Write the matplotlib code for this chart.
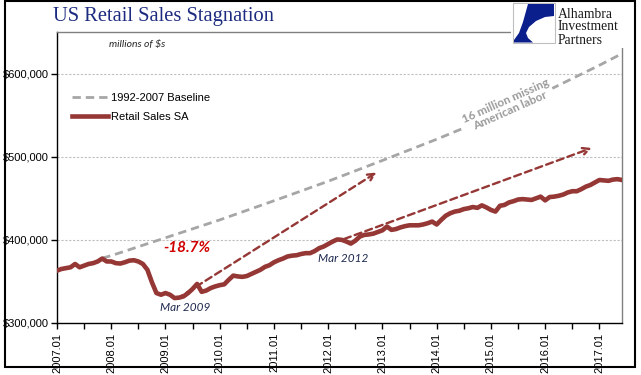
import numpy as np
import matplotlib
matplotlib.use("Agg")
import matplotlib.pyplot as plt
from matplotlib.patches import Rectangle, Polygon

# monthly retail sales SA, millions of $, Jan 2007 .. Jun 2017 (in thousands)
sales_k = [363, 365, 366, 367, 371, 367, 369, 371, 372, 374, 377.5, 374,
           374, 372, 371.5, 373, 375, 375.5, 374, 371, 364, 349, 336, 334,
           336, 334, 330, 330.5, 332, 336, 341, 347, 337.5, 339, 342, 344,
           345.5, 346.5, 352, 357, 356, 355.5, 356.5, 359, 361.5, 364, 367.5, 369.5,
           373, 375.5, 377.5, 380, 381, 381.5, 383, 384, 384, 386.5, 390, 392,
           395, 398, 400.5, 400, 398, 395.5, 399, 404, 406, 406.5, 407.5, 409.5,
           411.5, 416, 412, 413, 415, 416.5, 417.5, 417.5, 417.5, 418.5, 420, 422,
           418.5, 424, 429, 432, 434, 435, 437, 438, 439.5, 438.5, 441.5, 439,
           436, 434, 441, 442, 445, 446.5, 448.5, 449, 448.5, 448, 450, 452,
           447.5, 451.5, 452, 453, 454.5, 457, 458.5, 458.5, 461, 464, 466, 469,
           472, 471.5, 471, 472.5, 473, 472]
months = np.arange(len(sales_k))
sales = np.array(sales_k) * 1000

# 1992-2007 baseline trend (month index, thousands)
base_m = [10, 12, 24, 36, 48, 60, 72, 84, 96, 108, 120, 125]
base_k = [378, 381, 402.5, 424, 447, 470.5, 495.5, 521, 548, 578, 610, 624]
base = np.array(base_k) * 1000

# dashed growth arrows: (start month, start value), (end month, end value)
arrows = [((26.5, 329000), (70.7, 481000)),
          ((63.5, 401000), (118.3, 510500))]

years = list(range(2007, 2018))
yticks = [300000, 400000, 500000, 600000]

red = "#953735"
grey = "#A6A6A6"

fig = plt.figure(figsize=(6.41, 3.75), dpi=100)
ax = fig.add_axes([57/641, 1-323/375, 565/641, 291/375])

ax.plot(base_m, base, color=grey, lw=2, ls=(0, (3, 1.8)), label="1992-2007 Baseline", zorder=2)
ax.plot(months, sales, color=red, lw=3.3, solid_joinstyle="round", label="Retail Sales SA", zorder=3)

for (x0, y0), (x1, y1) in arrows:
    ax.annotate("", xy=(x1, y1), xytext=(x0, y0),
                arrowprops=dict(arrowstyle="->", color=red, lw=1.7, ls=(0, (3, 1.8)),
                                shrinkA=0, shrinkB=0, mutation_scale=12), zorder=2)

ax.set_xlim(0, 125)
ax.set_ylim(300000, 650000)
ax.set_yticks(yticks)
ax.set_yticklabels(["${:,}".format(v) for v in yticks], fontsize=8, family="Liberation Sans")
ax.set_xticks([12*(y-2007) for y in years])
ax.set_xticks([12*(y-2007)+6 for y in years[:-1]], minor=True)
ax.set_xticklabels(["%d.01" % y for y in years], rotation=90, fontsize=8, family="Liberation Sans")
ax.tick_params(axis="both", which="both", direction="out", length=4, width=1, color="black", pad=2)
ax.tick_params(axis="x", pad=3)

for v in yticks[1:]:
    ax.axhline(v, color="#BFBFBF", lw=0.8, ls=(0, (2, 1.5)), zorder=1)

for s in ["left", "bottom"]:
    ax.spines[s].set_color("black")
    ax.spines[s].set_linewidth(1)
for s in ["top", "right"]:
    ax.spines[s].set_color("#808080")
    ax.spines[s].set_linewidth(1)

leg = ax.legend(loc="upper left", bbox_to_anchor=(0.0265, 0.792), frameon=False,
                borderaxespad=0, borderpad=0, handlelength=3.2, handletextpad=0.3,
                labelspacing=0.85, prop={"family": "Liberation Sans", "size": 8})


def px(x, y):
    return fig.transFigure.inverted().transform((x, 375 - y))


fig.text(*px(137, 45), "millions of $s", fontsize=7.5, style="italic",
         family="Lato", color="#262626", ha="center", va="center")
fig.text(*px(187, 248), "-18.7%", color="#D00000", fontsize=11,
         style="italic", weight="bold", family="Lato", ha="center", va="center")
fig.text(*px(185, 307.5), "Mar 2009", color="#1F2A50", fontsize=8.5,
         style="italic", family="Lato", ha="center", va="center")
fig.text(*px(343, 259), "Mar 2012", color="#1F2A50", fontsize=8.5,
         style="italic", family="Lato", ha="center", va="center")
fig.text(*px(508, 106), "16 million missing\nAmerican labor",
         color="#9A9A9A", fontsize=8.5, weight="bold", family="Lato", rotation=24,
         rotation_mode="anchor", ha="center", va="center", linespacing=1.0,
         bbox=dict(facecolor="white", edgecolor="none", pad=0.5))

fig.text(*px(53, 17), "US Retail Sales Stagnation", fontsize=14.8, family="Liberation Serif",
         color="#1C2B80", ha="left", va="center")

# logo block
lax = fig.add_axes([511/641, 1-48/375, 130/641, 48/375], zorder=5)
lax.set_xlim(511, 641)
lax.set_ylim(48, 0)
lax.axis("off")
lax.add_patch(Rectangle((511, 0), 130, 48, facecolor="white", edgecolor="none"))
lax.add_patch(Rectangle((513, 3), 42, 40, facecolor="white", edgecolor="#BFBFBF", lw=0.8))
lax.add_patch(Polygon([(528, 4), (554, 4), (554, 16), (545, 17), (536, 21), (529, 27),
                       (526, 33), (528, 38), (533, 42.5), (514, 42.5), (514, 40),
                       (519, 33), (523, 22)], closed=True, facecolor="#0A1E8C", edgecolor="none"))
for i, word in enumerate(["Alhambra", "Investment", "Partners"]):
    lax.text(558, 14 + 13*i, word, fontsize=9.8, family="Liberation Serif", color="#1a1a1a",
             ha="left", va="center")

fig.patches.append(Rectangle((5/641, 1-367/375), 630/641, 366/375, transform=fig.transFigure,
                             fill=False, edgecolor="black", lw=1.5, zorder=10))

fig.savefig("out.png", dpi=100)
